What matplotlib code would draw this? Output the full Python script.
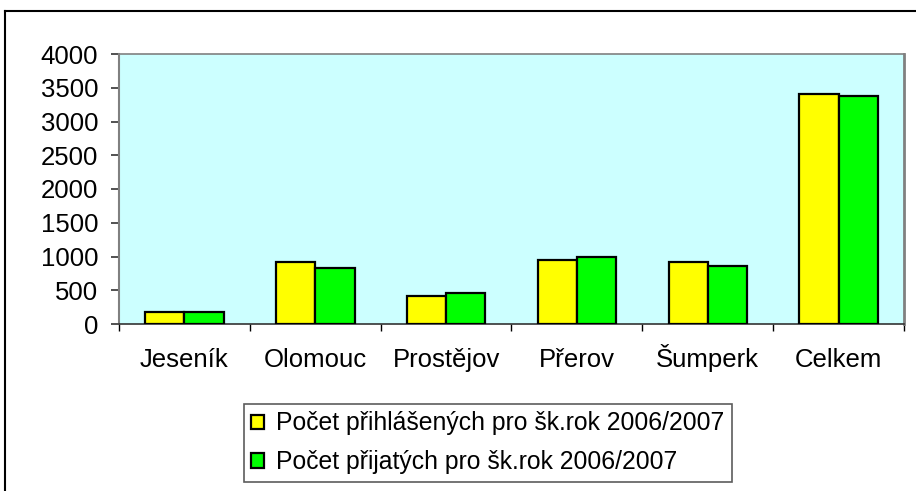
import numpy as np
import matplotlib
matplotlib.use("Agg")
import matplotlib.pyplot as plt
from matplotlib.lines import Line2D

OKRESY = ["Jeseník", "Olomouc", "Prostějov", "Přerov", "Šumperk", "Celkem"]
PRIHLASENI = [182, 918, 420, 953, 923, 3405]
PRIJATI = [182, 830, 459, 988, 864, 3380]
SERIE = ["Počet přihlášených pro šk.rok 2006/2007",
         "Počet přijatých pro šk.rok 2006/2007"]
YTICKS = [0, 500, 1000, 1500, 2000, 2500, 3000, 3500, 4000]

plt.rcParams['font.family'] = ['Liberation Sans', 'DejaVu Sans']

fig = plt.figure(figsize=(9.16, 4.91), dpi=100)
ax = fig.add_axes([119 / 916, 1 - 324 / 491, 785 / 916, 270 / 491])
ax.set_facecolor("#CCFFFF")

x = np.arange(len(OKRESY))
w = 0.3
ax.bar(x - w / 2, PRIHLASENI, w, color="#FFFF00", edgecolor="black",
       linewidth=1.6, label=SERIE[0], zorder=3)
ax.bar(x + w / 2, PRIJATI, w, color="#00FF00", edgecolor="black",
       linewidth=1.6, label=SERIE[1], zorder=3)

ax.set_xlim(-0.5, len(OKRESY) - 0.5)
ax.set_ylim(0, 4000)
ax.set_yticks(YTICKS)
ax.set_yticklabels([str(v) for v in YTICKS], fontsize=18.5)
ax.tick_params(axis="y", direction="out", length=6, width=1.2,
               color="#333333", pad=9)

# ticks on category borders, labels in the middle
ax.set_xticks(np.arange(len(OKRESY) + 1) - 0.5)
ax.set_xticklabels([])
ax.tick_params(axis="x", which="major", direction="out", length=5,
               width=1, color="black")
ax.set_xticks(x, minor=True)
ax.set_xticklabels(OKRESY, minor=True, fontsize=18.5, va="baseline")
ax.tick_params(axis="x", which="minor", length=0, pad=31)

for side in ("top", "right", "left"):
    ax.spines[side].set_color("#808080")
ax.spines["top"].set_linewidth(1.2)
ax.spines["right"].set_linewidth(2)
ax.spines["left"].set_linewidth(1.5)
ax.spines["bottom"].set_color("#333333")
ax.spines["bottom"].set_linewidth(1.2)

leg = fig.legend(loc="upper left", bbox_to_anchor=(244 / 916, 1 - 404 / 491),
                 fontsize=17.8, frameon=True, fancybox=False, handlelength=0.5,
                 handleheight=0.5, handletextpad=0.5, labelspacing=0.6,
                 borderpad=0.3, borderaxespad=0)
leg.get_frame().set_edgecolor("#333333")
leg.get_frame().set_linewidth(1.2)

# outer chart frame
fig.add_artist(Line2D([5 / 916, 1], [1 - 11 / 491, 1 - 11 / 491],
                      transform=fig.transFigure, color="black", linewidth=1.5))
fig.add_artist(Line2D([5 / 916, 5 / 916], [0, 1 - 11 / 491],
                      transform=fig.transFigure, color="black", linewidth=1.5))

plt.savefig("out.png", dpi=100)
